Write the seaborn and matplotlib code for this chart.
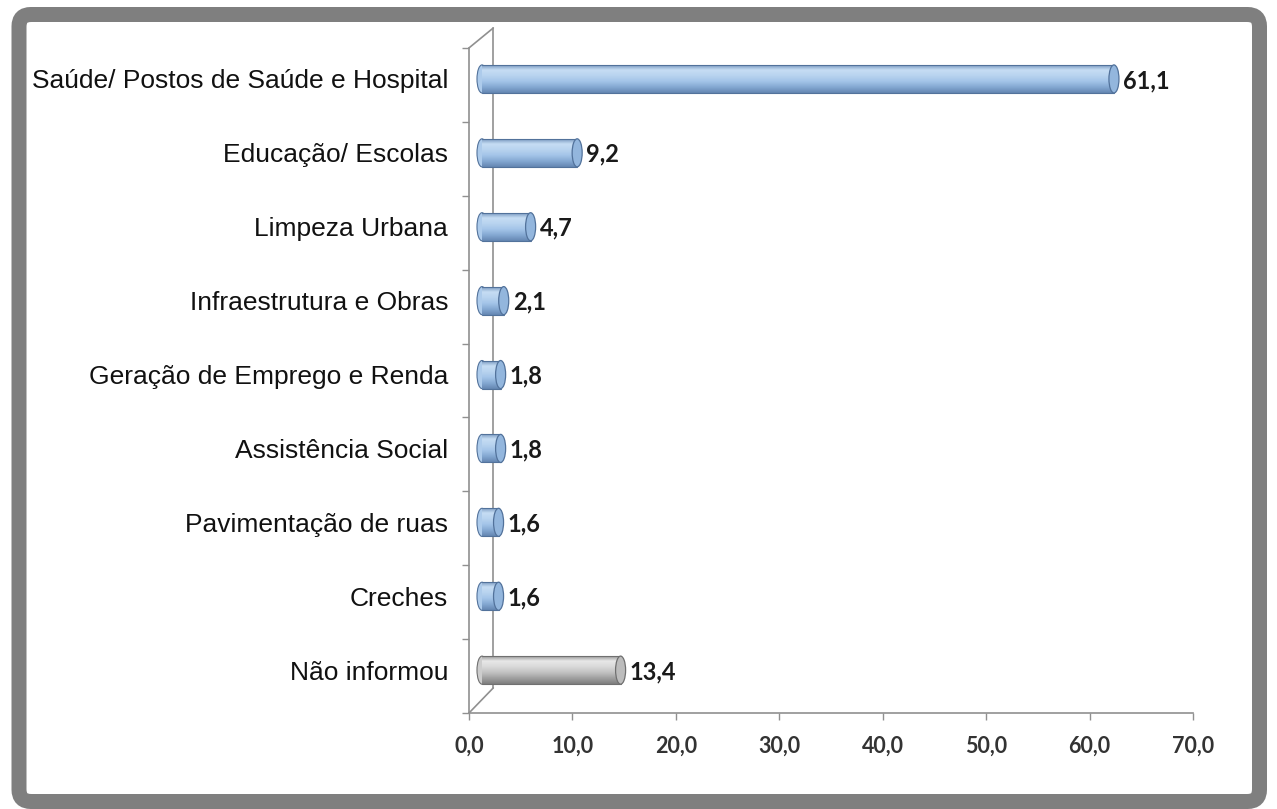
import numpy as np
import pandas as pd
import seaborn as sns
import matplotlib.pyplot as plt
from matplotlib.patches import FancyBboxPatch, Ellipse
from matplotlib.transforms import ScaledTranslation, offset_copy
from matplotlib.colors import LinearSegmentedColormap

categories = ["Saúde/ Postos de Saúde e Hospital", "Educação/ Escolas", "Limpeza Urbana",
              "Infraestrutura e Obras", "Geração de Emprego e Renda", "Assistência Social",
              "Pavimentação de ruas", "Creches", "Não informou"]
values = [61.1, 9.2, 4.7, 2.1, 1.8, 1.8, 1.6, 1.6, 13.4]
value_labels = ["61,1", "9,2", "4,7", "2,1", "1,8", "1,8", "1,6", "1,6", "13,4"]
xticks = [0, 10, 20, 30, 40, 50, 60, 70]
xtick_labels = ["0,0", "10,0", "20,0", "30,0", "40,0", "50,0", "60,0", "70,0"]

blue = ["#7090b8", "#c6ddf4", "#b8d3ef", "#a3c4e8", "#84a8d2", "#6587b2"]
gray = ["#8a8a8a", "#e8e8e8", "#d9d9d9", "#c2c2c2", "#a0a0a0", "#7e7e7e"]
blue_cm = LinearSegmentedColormap.from_list("b", blue)
gray_cm = LinearSegmentedColormap.from_list("g", gray)

df = pd.DataFrame({"cat": categories, "val": values})

sns.set_style("white")
fig = plt.figure(figsize=(12.77, 8.09), dpi=100)
ax = fig.add_axes([469 / 1277, 1 - 713 / 809, (1193 - 469) / 1277, (713 - 42) / 809])

pal = ["#a9c9ea"] * 8 + ["#c8c8c8"]
sns.barplot(data=df, x="val", y="cat", hue="cat", palette=pal, legend=False,
            width=0.38, linewidth=0, ax=ax)

shift = ax.transData + ScaledTranslation(13 / 100, 0, fig.dpi_scale_trans)
grad = np.linspace(0, 1, 64).reshape(-1, 1)
cap_w = 0.97
for i, p in enumerate(list(ax.patches)):
    cm = gray_cm if i == 8 else blue_cm
    edge = "#707070" if i == 8 else "#52729b"
    cap = "#bcbcbc" if i == 8 else "#93b6dd"
    p.set_transform(shift)
    p.set_edgecolor("none")
    x0, y0, w, h = p.get_x(), p.get_y(), p.get_width(), p.get_height()
    # rounded back end
    ax.add_patch(Ellipse((x0, y0 + h / 2), cap_w, h, transform=shift, facecolor=cm(0.5),
                         edgecolor=edge, linewidth=0.8, zorder=1.5))
    im = ax.imshow(grad, cmap=cm, extent=(x0, x0 + w, y0 + h, y0), origin="upper",
                   aspect="auto", zorder=2, transform=shift)
    im.set_clip_path(p)
    ax.plot([x0, x0 + w], [y0, y0], color=edge, lw=0.8, transform=shift, zorder=2.5)
    ax.plot([x0, x0 + w], [y0 + h, y0 + h], color=edge, lw=0.8, transform=shift, zorder=2.5)
    ax.add_patch(Ellipse((x0 + w, y0 + h / 2), cap_w, h, transform=shift, facecolor=cap,
                         edgecolor=edge, linewidth=0.9, zorder=3))
    ax.text(values[i], i + 0.02, value_labels[i], ha="left", va="center", fontsize=17,
            fontweight="bold", family="Lato", color="#1a1a1a",
            transform=offset_copy(ax.transData, fig, x=22, y=0, units="dots"))

ax.set_xlim(0, 70)
ax.set_ylim(8.58, -0.5)
ax.set_xticks(xticks)
ax.set_xticklabels(xtick_labels, family="Lato", fontsize=15.5, fontweight="bold", color="#333333")
ax.set_yticks(range(len(categories)))
ax.set_yticklabels(categories, family="Liberation Sans", fontsize=19, color="#111111")
ax.set_yticks([k - 0.42 for k in range(10)], minor=True)
ax.tick_params(axis="y", which="major", length=0, pad=15)
ax.tick_params(axis="y", which="minor", left=True, length=5, width=1, color="#909090")
ax.tick_params(axis="x", bottom=True, length=5, width=1, color="#909090", pad=11)
ax.set_xlabel("")
ax.set_ylabel("")
for s in ["top", "right"]:
    ax.spines[s].set_visible(False)
ax.spines["left"].set_bounds(8.58, -0.42)
for s in ["left", "bottom"]:
    ax.spines[s].set_color("#909090")
    ax.spines[s].set_linewidth(1.2)

# back wall of the 3D frame
wall = dict(color="#909090", lw=1.2, clip_on=False, zorder=1)
ax.plot([0, 2.35], [-0.42, -0.69], **wall)
ax.plot([2.35, 2.35], [-0.69, 8.24], **wall)
ax.plot([2.35, 0], [8.24, 8.58], **wall)

frame = FancyBboxPatch((19, 7.5), 1259.5 - 19, 794.5 - 7.5, boxstyle="round,pad=0,rounding_size=12",
                       transform=None, facecolor="none", edgecolor="#7f7f7f", linewidth=10.8)
fig.patches.append(frame)

plt.savefig("out.png", dpi=100)
